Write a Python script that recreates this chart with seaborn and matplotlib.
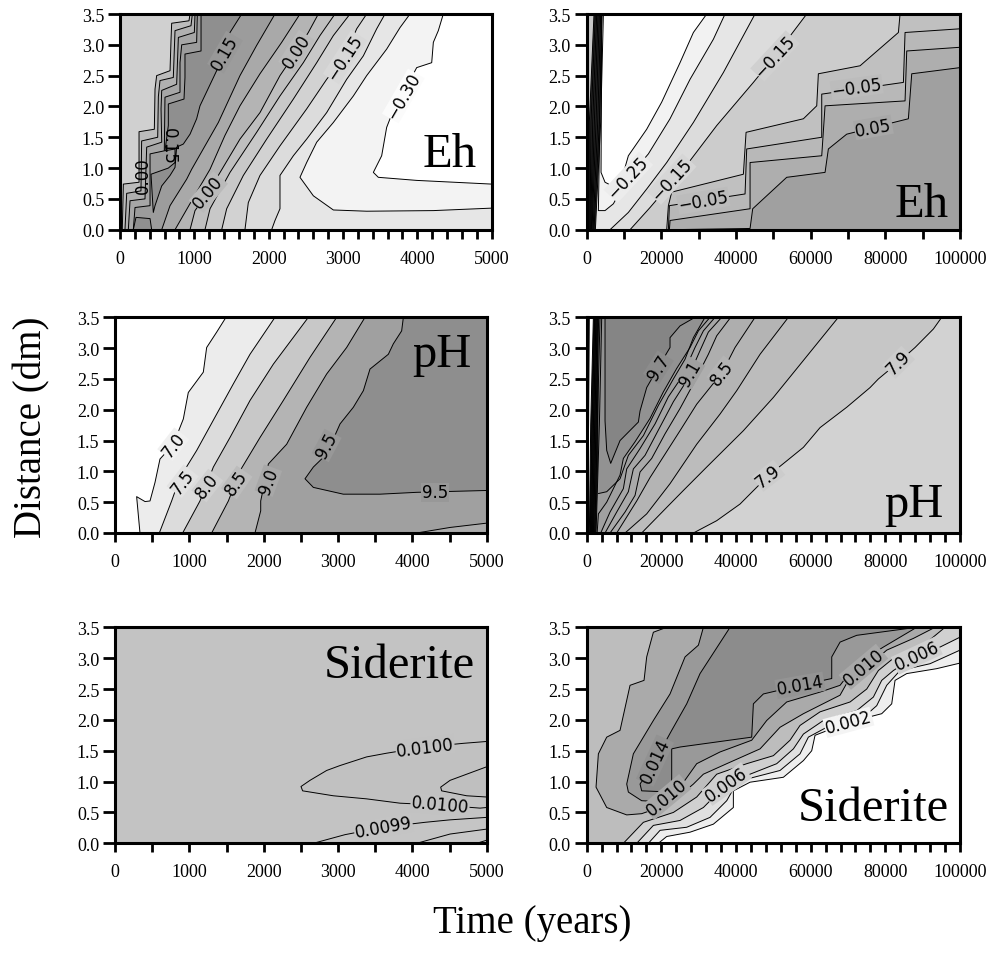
# Redox / pH / siderite contour panels, short run (left) and long run (right)
import matplotlib
matplotlib.use("Agg")
import matplotlib.pyplot as plt
import seaborn as sns

# Every contour below is time (years) vs distance (dm)

# --- Eh, 0-5000 years
eh_a1_t = [942, 928, 695, 686, 673, 493, 471, 462, 256, 256, 45, 31]
eh_a1_d = [3.5, 3.39, 3.35, 3.07, 2.58, 2.50, 2.28, 1.63, 1.59, 0.77, 0.74, 0]
eh_a2_t = [973, 955, 740, 731, 717, 538, 516, 507, 291, 282, 90, 67]
eh_a2_d = [3.5, 3.31, 3.23, 2.93, 2.47, 2.42, 2.16, 1.50, 1.44, 0.63, 0.59, 0]
eh_a3_t = [1009, 1000, 785, 776, 762, 561, 552, 561, 359, 336, 135, 112]
eh_a3_d = [3.5, 3.20, 3.12, 2.82, 2.36, 2.26, 1.96, 1.42, 1.34, 0.50, 0.47, 0]
eh_a4_t = [1040, 1031, 830, 807, 807, 605, 596, 404, 404, 202, 179]
eh_a4_d = [3.5, 3.04, 3.00, 2.71, 2.23, 2.15, 1.28, 1.23, 0.39, 0.36, 0]
eh_a_peak_t = [1090, 1090, 874, 874, 861, 650, 650, 605, 740, 740, 650, 417, 448,
               471, 561, 673, 740, 762, 852, 942, 1031, 1076, 1300, 1480, 1637]
eh_a_peak_d = [3.5, 2.90, 2.85, 2.47, 2.12, 2.04, 1.69, 1.28, 1.31, 1.09, 1.00, 0.90, 0.28,
               0.39, 0.71, 0.88, 1.01, 1.34, 1.39, 1.55, 1.80, 2.01, 2.58, 3.20, 3.5]
eh_a_foot_t = [179, 215, 404, 426]
eh_a_foot_d = [0, 0.20, 0.18, 0]
eh_a_p10_t = [561, 673, 897, 964, 1323, 1614, 1838, 2085]
eh_a_p10_d = [0, 0.39, 0.82, 0.98, 1.74, 2.50, 2.99, 3.5]
eh_a_p05_t = [740, 1031, 1211, 1412, 1614, 1883, 2175, 2421]
eh_a_p05_d = [0, 0.61, 0.98, 1.53, 2.01, 2.53, 3.04, 3.5]
eh_a_00_t = [942, 1009, 1188, 1614, 1883, 2152, 2377, 2533, 2668]
eh_a_00_d = [0, 0.31, 0.61, 1.47, 1.90, 2.50, 2.90, 3.20, 3.5]
eh_a_m05_t = [1143, 1211, 1480, 1838, 2152, 2466, 2690, 2892]
eh_a_m05_d = [0, 0.34, 0.93, 1.58, 2.17, 2.71, 3.15, 3.5]
eh_a_m10_t = [1368, 1435, 1659, 1973, 2332, 2646, 2870, 3094]
eh_a_m10_d = [0, 0.34, 0.88, 1.47, 2.12, 2.71, 3.15, 3.5]
eh_a_m15_t = [1681, 1726, 1883, 2152, 2511, 2780, 3027, 3184, 3318]
eh_a_m15_d = [0, 0.44, 0.88, 1.36, 1.96, 2.44, 2.82, 3.26, 3.5]
eh_a_m20_t = [2040, 2085, 2152, 2152, 2332, 2511, 2780, 3049, 3273, 3453, 3565]
eh_a_m20_d = [0, 0.15, 0.34, 0.88, 1.20, 1.47, 1.90, 2.44, 2.82, 3.26, 3.5]
eh_a_m25_t = [3901, 3767, 3587, 3318, 3139, 2870, 2646, 2511, 2421, 2601, 2870, 3318, 4215, 5000]
eh_a_m25_d = [3.5, 3.28, 2.93, 2.50, 2.17, 1.74, 1.42, 1.09, 0.85, 0.55, 0.32, 0.30, 0.31, 0.35]
eh_a_m30_t = [4349, 4282, 4215, 4193, 3991, 3632, 3587, 3520, 3408, 3475, 3991, 5000]
eh_a_m30_d = [3.5, 3.23, 3.04, 2.71, 2.63, 1.80, 1.66, 1.20, 0.93, 0.85, 0.80, 0.74]

# --- Eh, 0-100000 years
eh_b_strip_top = [1960, 2320, 2680, 3040, 3390, 3750, 4110, 4470]
eh_b_strip_mid = [710, 1160, 1610, 2050, 2500, 2950, 3390, 3750]
eh_b_strip_bot = [710, 890, 1070, 1250, 1430, 1700, 1960, 2320]
eh_b_m20_t = [6250, 11160, 16070, 21430, 28580, 36610, 45100]
eh_b_m20_d = [0, 0.28, 0.66, 1.09, 1.74, 2.55, 3.5]
eh_b_m15_t = [11610, 16970, 27680, 34830, 44650, 50450, 58940]
eh_b_m15_d = [0, 0.36, 1.12, 1.69, 2.39, 2.82, 3.5]
eh_b_m10_t = [21430, 21880, 22770, 41970, 42690, 58050, 61620, 62060, 73230, 83500, 83940]
eh_b_m10_d = [0, 0.39, 0.61, 0.90, 1.58, 1.80, 2.01, 2.53, 2.66, 3.20, 3.5]
eh_b_m05_t = [21880, 22150, 42420, 42860, 62960, 62960, 84840, 85280, 100000]
eh_b_m05_d = [0, 0.39, 0.58, 1.31, 1.50, 2.20, 2.39, 3.20, 3.26]
eh_b_00_t = [22150, 22330, 43760, 43760, 62960, 63850, 85280, 85730, 100000]
eh_b_00_d = [0, 0.15, 0.34, 1.09, 1.20, 2.01, 2.09, 2.90, 2.96]
eh_b_p05_t = [22320, 43760, 44470, 53580, 63850, 64740, 69650, 86170, 87070, 100000]
eh_b_p05_d = [0, 0.02, 0.34, 0.85, 0.93, 1.31, 1.55, 1.80, 2.53, 2.63]
eh_b_m25_t = [37060, 33930, 27680, 22320, 16520, 11160, 7140, 4910, 3130, 4020]
eh_b_m25_d = [3.5, 3.09, 2.44, 1.80, 1.23, 0.85, 0.42, 0.31, 0.31, 3.5]
eh_b_m30_t = [32150, 28580, 25000, 20090, 16070, 11160, 9380, 7140, 4910, 3840, 4020]
eh_b_m30_d = [3.5, 3.20, 2.71, 2.07, 1.63, 1.20, 0.82, 0.70, 0.77, 0.93, 3.5]

# --- pH, 0-5000 years
ph_c_70_t = [336, 291, 404, 471, 538, 605, 785, 919, 986, 1188, 1233, 1368, 1493]
ph_c_70_d = [0, 0.59, 0.51, 0.52, 0.82, 1.20, 1.44, 1.85, 2.28, 2.61, 3.01, 3.26, 3.5]
ph_c_75_t = [596, 762, 874, 1099, 1368, 1592, 1816, 2152]
ph_c_75_d = [0, 0.52, 0.90, 1.34, 1.93, 2.42, 2.90, 3.5]
ph_c_80_t = [910, 1143, 1323, 1547, 1816, 2130, 2601]
ph_c_80_d = [0, 0.52, 1.07, 1.55, 2.15, 2.74, 3.5]
ph_c_85_t = [1300, 1525, 1682, 1951, 2264, 2623, 2982]
ph_c_85_d = [0, 0.52, 1.01, 1.55, 2.15, 2.85, 3.5]
ph_c_90_t = [1883, 1960, 1960, 2063, 2309, 2578, 2847, 3116, 3363]
ph_c_90_d = [0, 0.36, 0.52, 1.12, 1.44, 2.04, 2.58, 3.01, 3.5]
ph_c_95_t = [3879, 3856, 3744, 3677, 3430, 3341, 3206, 3027, 2847, 2668, 2556, 2668, 3071, 3565, 4058, 5000]
ph_c_95_d = [3.5, 3.28, 3.07, 2.90, 2.66, 2.31, 2.04, 1.77, 1.28, 1.07, 0.88, 0.74, 0.63, 0.63, 0.66, 0.69]
ph_c_low_t = [4058, 4507, 5000]
ph_c_low_d = [0, 0.09, 0.16]

# --- pH, 0-100000 years
ph_d_sliver_t = [700, 500, 200]
ph_d_strip_top = [1790, 2140, 2500, 2860, 3210, 3570, 4020]
ph_d_strip_mid = [1070, 1430, 1790, 2140, 2500, 2860, 3390]
ph_d_strip_bot = [710, 980, 1250, 1520, 1790, 2140, 2500]
ph_d_97_t = [4910, 4910, 5360, 6430, 8930, 13840, 14290, 16070, 19200, 22320, 22320, 25000, 29020]
ph_d_97_d = [3.5, 1.82, 1.34, 1.13, 1.50, 1.80, 1.98, 2.36, 2.69, 3.01, 3.17, 3.36, 3.5]
ph_d_95_t = [3130, 5360, 8930, 11160, 15180, 19200, 23220, 26340, 28580, 31700, 3130]
ph_d_95_d = [0.64, 0.67, 0.88, 1.26, 1.58, 2.07, 2.50, 2.82, 3.17, 3.5, 3.5]
ph_d_93_t = [2800, 3130, 5360, 8930, 9820, 12950, 16970, 20540, 24110, 27680, 29920, 33040]
ph_d_93_d = [0, 0.31, 0.50, 0.94, 1.21, 1.48, 1.86, 2.29, 2.67, 3.01, 3.28, 3.5]
ph_d_91_t = [3750, 6250, 9820, 10720, 14290, 18310, 21880, 25450, 29020, 31260, 34380]
ph_d_91_d = [0, 0.34, 0.72, 1.04, 1.37, 1.77, 2.21, 2.53, 3.01, 3.28, 3.5]
ph_d_89_t = [4910, 8040, 11160, 12500, 15630, 19200, 23220, 26790, 30360, 32590, 36170]
ph_d_89_d = [0, 0.34, 0.67, 1.04, 1.26, 1.67, 2.13, 2.47, 2.96, 3.26, 3.5]
ph_d_87_t = [6250, 10270, 12950, 14290, 17410, 20990, 25000, 28580, 32590, 34830, 38580]
ph_d_87_d = [0, 0.34, 0.61, 0.99, 1.21, 1.61, 2.02, 2.42, 2.90, 3.20, 3.5]
ph_d_85_t = [8040, 13400, 16970, 20990, 25000, 29470, 33040, 36350, 39740, 45100]
ph_d_85_d = [0, 0.52, 0.90, 1.28, 1.66, 2.09, 2.36, 2.61, 3.01, 3.5]
ph_d_83_t = [10270, 16070, 22320, 29470, 35720, 40190, 46440, 54030]
ph_d_83_d = [0, 0.31, 0.80, 1.44, 1.93, 2.31, 2.90, 3.5]
ph_d_81_t = [14730, 22320, 25900, 32150, 41970, 50010, 58050, 67420]
ph_d_81_d = [0, 0.47, 0.69, 1.07, 1.66, 2.20, 2.80, 3.5]
ph_d_79_t = [28580, 34830, 41080, 44200, 48670, 53580, 58050, 62510, 69650, 75910, 78140, 83500, 87960, 92870, 95100]
ph_d_79_d = [0, 0.20, 0.47, 0.66, 0.93, 1.17, 1.39, 1.71, 2.04, 2.36, 2.50, 2.77, 3.01, 3.31, 3.5]

# --- Siderite, 0-5000 years
sd_e_loop_t = [5000, 4686, 4170, 3654, 3385, 3027, 2847, 2623, 2502, 2524, 2937, 3385, 3834, 4372, 4910, 5000]
sd_e_loop_d = [1.65, 1.62, 1.56, 1.46, 1.40, 1.26, 1.18, 1.02, 0.92, 0.85, 0.77, 0.72, 0.65, 0.62, 0.57, 0.58]
sd_e_inner_t = [5000, 4731, 4507, 4381, 4394, 4731, 5000]
sd_e_inner_d = [1.24, 1.12, 1.02, 0.91, 0.85, 0.77, 0.75]
sd_e_99_t = [2668, 3094, 3609, 4170, 4507, 5000]
sd_e_99_d = [0, 0.14, 0.26, 0.34, 0.38, 0.42]
sd_e_low_t = [4058, 4507, 5000]
sd_e_low_d = [0, 0.15, 0.23]
sd_e_tip_t = [4865, 5000]
sd_e_tip_d = [0, 0.05]

# --- Siderite, 0-100000 years
sd_f_010_t = [21430, 17860, 16070, 15360, 11610, 8930, 5360, 3130, 2500, 5360, 10720, 14730, 22320, 28580,
              31260, 37510, 46440, 51790, 58050, 67870, 70100, 74120, 80370, 87510, 93320]
sd_f_010_d = [3.5, 3.42, 3.02, 2.64, 2.56, 1.83, 1.72, 1.45, 0.91, 0.58, 0.46, 0.48, 0.64, 0.96,
              1.12, 1.29, 1.53, 1.88, 2.10, 2.40, 2.64, 2.80, 3.13, 3.32, 3.5]
sd_f_012_t = [31260, 29920, 26340, 22320, 17860, 12500, 10720, 11160, 14730, 21430, 25000, 29470, 35720,
              44200, 48220, 53580, 62510, 67870, 72330, 79480, 88410]
sd_f_012_d = [3.5, 3.21, 3.02, 2.42, 1.99, 1.45, 0.96, 0.83, 0.69, 0.67, 0.91, 1.29, 1.48,
              1.67, 1.99, 2.29, 2.45, 2.56, 2.91, 3.18, 3.5]
sd_f_014_t = [38400, 30360, 26790, 22770, 18310, 14290, 14730, 22770, 22770, 25000, 44200, 44650, 47330,
              57150, 65640, 65640, 67870, 72330, 88410]
sd_f_014_d = [3.5, 2.75, 2.26, 1.83, 1.34, 0.96, 0.85, 0.83, 1.53, 1.56, 1.72, 2.26, 2.42,
              2.56, 2.67, 3.02, 3.26, 3.37, 3.5]
sd_f_008_t = [9820, 15180, 23220, 29470, 34830, 42860, 50010, 54470, 57150, 62510, 70550, 75020, 78140, 82600, 90190, 96000]
sd_f_008_d = [0, 0.34, 0.50, 0.75, 1.12, 1.29, 1.42, 1.67, 1.91, 2.13, 2.29, 2.50, 2.80, 3.02, 3.21, 3.5]
sd_f_006_t = [13400, 17860, 25000, 31260, 37510, 43760, 50900, 55370, 58050, 63400, 72330, 76800, 79030, 82160, 88410, 94660, 100000]
sd_f_006_d = [0, 0.29, 0.37, 0.58, 0.96, 1.12, 1.29, 1.53, 1.77, 1.99, 2.15, 2.37, 2.64, 2.80, 3.04, 3.18, 3.34]
sd_f_004_t = [16520, 19650, 26790, 33040, 37510, 39290, 42860, 51790, 57150, 59380, 64300, 74120, 77690, 80370, 83940, 91980, 100000]
sd_f_004_d = [0, 0.21, 0.26, 0.42, 0.69, 0.88, 1.04, 1.18, 1.45, 1.72, 1.88, 2.04, 2.23, 2.56, 2.80, 2.91, 3.13]
sd_f_002_t = [19200, 21430, 27680, 33930, 39290, 39290, 43760, 52690, 58050, 60280, 61170, 70100, 79030, 81710, 82600, 85730, 93770, 100000]
sd_f_002_d = [0, 0.11, 0.18, 0.31, 0.58, 0.85, 0.99, 1.07, 1.34, 1.50, 1.75, 1.96, 2.10, 2.26, 2.64, 2.75, 2.83, 2.92]

strip_d = [3.5, 1.75, 0]
y_ticks = [0.0, 0.5, 1.0, 1.5, 2.0, 2.5, 3.0, 3.5]
short_labels = [0, 1000, 2000, 3000, 4000, 5000]
long_labels = [0, 20000, 40000, 60000, 80000, 100000]

sns.set_style("ticks")
plt.rcParams["font.family"] = "Liberation Serif"
plt.rcParams["text.color"] = "black"
plt.rcParams["xtick.labelcolor"] = "black"
plt.rcParams["ytick.labelcolor"] = "black"


def strip(top, mid, bot, fill, last):
    # the tight bundle of contours at the very start of the long runs
    n = len(top)
    rows = []
    for i in range(n):
        colour = last if i == n - 1 else fill
        rows.append(([top[i], mid[i], bot[i]], strip_d, colour, "right"))
    return rows


def draw(ax, xmax, bg, contours):
    ax.set_facecolor(bg)
    for t, d, colour, mode in contours:
        if mode == "right":
            ax.fill(list(t) + [xmax, xmax], list(d) + [d[-1], d[0]], color=colour, lw=0)
        elif mode == "closed":
            ax.fill(t, d, color=colour, lw=0)
        sns.lineplot(x=t, y=d, sort=False, estimator=None, color="black", lw=0.7, ax=ax, legend=False)


def style(ax, xmax, xstep, labels):
    ax.set_xlim(0, xmax)
    ax.set_ylim(0, 3.5)
    ax.set_xticks(range(0, xmax + 1, xstep))
    ax.set_xticklabels([str(v) if v in labels else "" for v in range(0, xmax + 1, xstep)], fontsize=13)
    ax.set_yticks(y_ticks)
    ax.set_yticklabels(["%.1f" % v for v in y_ticks], fontsize=13)
    ax.tick_params(axis="x", length=6.5, width=2, pad=8, color="black")
    ax.tick_params(axis="y", length=8.4, width=2, pad=3, color="black")
    ax.set_xlabel("")
    ax.set_ylabel("")
    for s in ax.spines.values():
        s.set_linewidth(2.2)
        s.set_color("black")
        s.set_zorder(6)


def clabels(ax, rows):
    for t, d, txt, rot, bg in rows:
        box = dict(facecolor=bg, edgecolor="none", pad=0.5) if bg else None
        ax.text(t, d, txt, rotation=rot, rotation_mode="anchor", ha="center", va="center",
                family="DejaVu Sans", fontsize=12, color="black", bbox=box, zorder=4)


def title(ax, t, d, txt):
    ax.text(t, d, txt, ha="right", va="baseline", fontsize=35, color="black", zorder=5)


W, H = 1000, 954
fig = plt.figure(figsize=(W / 100, H / 100), dpi=100, facecolor="white")


def panel(x0, x1, y0, y1):
    return fig.add_axes([x0 / W, 1 - y1 / H, (x1 - x0) / W, (y1 - y0) / H])


ax_a = panel(120, 491.7, 15, 230.7)
ax_b = panel(586.7, 960, 15, 230.7)
ax_c = panel(115, 486.7, 318.3, 534)
ax_d = panel(586.7, 960, 318.3, 534)
ax_e = panel(115, 486.7, 628.3, 844.3)
ax_f = panel(586.7, 960, 628.3, 844.3)

draw(ax_a, 5000, "#d0d0d0", [
    (eh_a1_t, eh_a1_d, "#bcbcbc", "right"),
    (eh_a2_t, eh_a2_d, "#b0b0b0", "right"),
    (eh_a3_t, eh_a3_d, "#a6a6a6", "right"),
    (eh_a4_t, eh_a4_d, "#9c9c9c", "right"),
    (eh_a_peak_t, eh_a_peak_d, "#8f8f8f", "closed"),
    (eh_a_foot_t, eh_a_foot_d, "#8f8f8f", "closed"),
    (eh_a_p10_t, eh_a_p10_d, "#a9a9a9", "right"),
    (eh_a_p05_t, eh_a_p05_d, "#b4b4b4", "right"),
    (eh_a_00_t, eh_a_00_d, "#bfbfbf", "right"),
    (eh_a_m05_t, eh_a_m05_d, "#c8c8c8", "right"),
    (eh_a_m10_t, eh_a_m10_d, "#d2d2d2", "right"),
    (eh_a_m15_t, eh_a_m15_d, "#dcdcdc", "right"),
    (eh_a_m20_t, eh_a_m20_d, "#e6e6e6", "right"),
    (eh_a_m25_t, eh_a_m25_d, "#f3f3f3", "right"),
    (eh_a_m30_t, eh_a_m30_d, "#ffffff", "right"),
])
style(ax_a, 5000, 200, short_labels)
clabels(ax_a, [
    (1412, 2.88, "0.15", 60, "#989898"),
    (2377, 2.90, "0.00", 57, "#bababa"),
    (3027, 2.80, "−0.15", 57, "#d8d8d8"),
    (3811, 2.17, "−0.30", 60, "#fbfbfb"),
    (1188, 0.61, "0.00", 50, "#bababa"),
    (659, 1.36, "0.15", -90, None),
    (314, 0.90, "0.00", 90, None),
])
title(ax_a, 4798, 1.04, "Eh")

draw(ax_b, 100000, "#c8c8c8", strip(eh_b_strip_top, eh_b_strip_mid, eh_b_strip_bot, "#303030", "#e6e6e6") + [
    (eh_b_m20_t, eh_b_m20_d, "#dcdcdc", "right"),
    (eh_b_m15_t, eh_b_m15_d, "#cccccc", "right"),
    (eh_b_m10_t, eh_b_m10_d, "#c0c0c0", "right"),
    (eh_b_m05_t, eh_b_m05_d, "#b8b8b8", "right"),
    (eh_b_00_t, eh_b_00_d, "#aeaeae", "right"),
    (eh_b_p05_t, eh_b_p05_d, "#a0a0a0", "right"),
    (eh_b_m25_t, eh_b_m25_d, "#f2f2f2", "closed"),
    (eh_b_m30_t, eh_b_m30_d, "#ffffff", "closed"),
])
style(ax_b, 100000, 10000, long_labels)
clabels(ax_b, [
    (11160, 0.85, "−0.25", 47, "#ececec"),
    (22770, 0.82, "−0.15", 47, "#d6d6d6"),
    (31250, 0.47, "−0.05", 10, "#bcbcbc"),
    (72330, 2.31, "−0.05", 8, "#bcbcbc"),
    (76800, 1.66, "0.05", 10, "#a8a8a8"),
    (50450, 2.82, "−0.15", 47, "#d0d0d0"),
])
title(ax_b, 96890, 0.23, "Eh")

draw(ax_c, 5000, "#ffffff", [
    (ph_c_70_t, ph_c_70_d, "#ececec", "right"),
    (ph_c_75_t, ph_c_75_d, "#dcdcdc", "right"),
    (ph_c_80_t, ph_c_80_d, "#c8c8c8", "right"),
    (ph_c_85_t, ph_c_85_d, "#b4b4b4", "right"),
    (ph_c_90_t, ph_c_90_d, "#a0a0a0", "right"),
    (ph_c_95_t, ph_c_95_d, "#8e8e8e", "right"),
    (ph_c_low_t, ph_c_low_d, "#ababab", "right"),
])
style(ax_c, 5000, 500, short_labels)
clabels(ax_c, [
    (785, 1.44, "7.0", 52, "#f0f0f0"),
    (910, 0.84, "7.5", 52, "#e2e2e2"),
    (1242, 0.77, "8.0", 52, "#d0d0d0"),
    (1637, 0.82, "8.5", 55, "#bcbcbc"),
    (2063, 0.85, "9.0", 70, "#a8a8a8"),
    (2847, 1.42, "9.5", 62, "#989898"),
    (4305, 0.66, "9.5", 0, "#989898"),
])
title(ax_c, 4798, 2.71, "pH")

draw(ax_d, 100000, "#c8c8c8", [(ph_d_sliver_t, strip_d, "#ffffff", "right")]
     + strip(ph_d_strip_top, ph_d_strip_mid, ph_d_strip_bot, "#111111", "#9c9c9c") + [
    (ph_d_95_t, ph_d_95_d, "#929292", "closed"),
    (ph_d_97_t, ph_d_97_d, "#858585", "closed"),
    (ph_d_93_t, ph_d_93_d, "#a0a0a0", "right"),
    (ph_d_91_t, ph_d_91_d, "#a6a6a6", "right"),
    (ph_d_89_t, ph_d_89_d, "#aaaaaa", "right"),
    (ph_d_87_t, ph_d_87_d, "#aeaeae", "right"),
    (ph_d_85_t, ph_d_85_d, "#b4b4b4", "right"),
    (ph_d_83_t, ph_d_83_d, "#bcbcbc", "right"),
    (ph_d_81_t, ph_d_81_d, "#c6c6c6", "right"),
    (ph_d_79_t, ph_d_79_d, "#d2d2d2", "right"),
])
style(ax_d, 100000, 4000, long_labels)
clabels(ax_d, [
    (19200, 2.69, "9.7", 58, "#8c8c8c"),
    (27680, 2.60, "9.1", 60, "#a0a0a0"),
    (36350, 2.61, "8.5", 52, "#b4b4b4"),
    (48670, 0.93, "7.9", 38, "#cccccc"),
    (83500, 2.77, "7.9", 45, "#cccccc"),
])
title(ax_d, 95550, 0.28, "pH")

draw(ax_e, 5000, "#c3c3c3", [
    (sd_e_99_t, sd_e_99_d, "#c5c5c5", "right"),
    (sd_e_low_t, sd_e_low_d, "#c7c7c7", "right"),
    (sd_e_tip_t, sd_e_tip_d, "#c9c9c9", "right"),
    (sd_e_loop_t, sd_e_loop_d, "#c1c1c1", "closed"),
    (sd_e_inner_t, sd_e_inner_d, "#bfbfbf", "closed"),
])
style(ax_e, 5000, 500, short_labels)
clabels(ax_e, [
    (4170, 1.56, "0.0100", 7, "#c2c2c2"),
    (4372, 0.62, "0.0100", -5, "#c2c2c2"),
    (3609, 0.26, "0.0099", 10, "#c4c4c4"),
])
title(ax_e, 4843, 2.69, "Siderite")

draw(ax_f, 100000, "#bdbdbd", [
    (sd_f_008_t, sd_f_008_d, "#d0d0d0", "right"),
    (sd_f_006_t, sd_f_006_d, "#e0e0e0", "right"),
    (sd_f_004_t, sd_f_004_d, "#eeeeee", "right"),
    (sd_f_002_t, sd_f_002_d, "#ffffff", "right"),
    (sd_f_010_t, sd_f_010_d, "#aaaaaa", "closed"),
    (sd_f_012_t, sd_f_012_d, "#999999", "closed"),
    (sd_f_014_t, sd_f_014_d, "#8c8c8c", "closed"),
])
style(ax_f, 100000, 4000, long_labels)
clabels(ax_f, [
    (18310, 1.34, "0.014", 65, "#929292"),
    (21430, 0.75, "0.010", 40, "#a8a8a8"),
    (37510, 0.96, "0.006", 35, "#d0d0d0"),
    (57150, 2.56, "0.014", 10, "#949494"),
    (74120, 2.86, "0.010", 40, "#a8a8a8"),
    (88410, 3.04, "0.006", 25, "#d0d0d0"),
    (70100, 1.96, "0.002", 15, "#f4f4f4"),
])
title(ax_f, 96890, 0.37, "Siderite")

fig.text(32 / W, 1 - 427 / H, "Distance (dm)", rotation=90, ha="center", va="center", fontsize=28)
fig.text(532 / W, 1 - 924 / H, "Time (years)", ha="center", va="center", fontsize=28)

fig.savefig("out.png", dpi=100)
